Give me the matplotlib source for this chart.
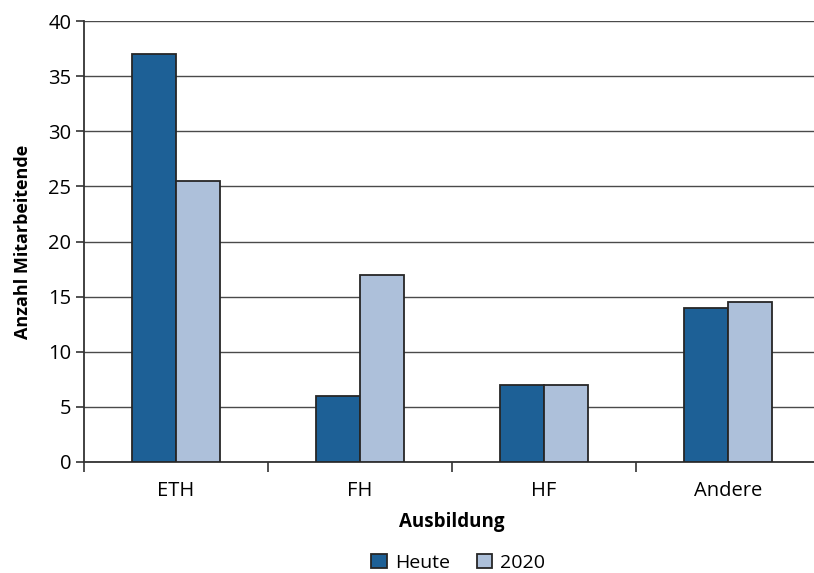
import numpy as np
import matplotlib
matplotlib.use('Agg')
import matplotlib.pyplot as plt
from matplotlib.ticker import FixedLocator, MultipleLocator

# Daten
kategorien = ['ETH', 'FH', 'HF', 'Andere']
heute = [37, 6, 7, 14]
jahr_2020 = [25.5, 17, 7, 14.5]

C_HEUTE = '#1d6096'
C_2020 = '#adc0da'
EDGE = '#262626'

plt.rcParams['font.family'] = ['Open Sans', 'DejaVu Sans']

fig = plt.figure(figsize=(8.14, 5.73), dpi=100)
ax = fig.add_axes([0.103, 0.194, 0.904, 0.769])

x = np.arange(len(kategorien))
w = 0.24
ax.bar(x - w / 2, heute, w, color=C_HEUTE, edgecolor=EDGE, lw=1.3,
       label='Heute', zorder=3)
ax.bar(x + w / 2, jahr_2020, w, color=C_2020, edgecolor=EDGE, lw=1.3,
       label='2020', zorder=3)

ax.set_xlim(-0.5, 3.5)
ax.set_ylim(0, 40)
ax.yaxis.set_major_locator(MultipleLocator(5))
ax.yaxis.grid(True, color='#4a4a4a', lw=1, zorder=1)

# x-Ticks an den Kategoriegrenzen, Beschriftung in der Mitte
ax.xaxis.set_major_locator(FixedLocator(np.arange(-0.5, 3.6, 1)))
ax.xaxis.set_minor_locator(FixedLocator(x))
ax.set_xticklabels([], minor=False)
ax.set_xticklabels(kategorien, minor=True)
ax.tick_params(axis='x', which='major', length=7, width=1.2, color='#333333')
ax.tick_params(axis='x', which='minor', length=0, pad=14, labelsize=14.5)
ax.tick_params(axis='y', length=6, width=1.2, color='#333333', labelsize=14.5, pad=3)

for s in ['top', 'right']:
    ax.spines[s].set_visible(False)
for s in ['left', 'bottom']:
    ax.spines[s].set_color('#333333')
    ax.spines[s].set_linewidth(1.3)

ax.set_xlabel('Ausbildung', fontsize=13.5, fontweight='bold', labelpad=8)
ax.set_ylabel('Anzahl Mitarbeitende', fontsize=13, fontweight='bold', labelpad=12)

fig.legend(loc='center', bbox_to_anchor=(0.563, 0.018), ncol=2, frameon=False,
           fontsize=14, handlelength=0.8, handleheight=0.8, columnspacing=1.4,
           handletextpad=0.4)

fig.savefig('out.png', dpi=100)
